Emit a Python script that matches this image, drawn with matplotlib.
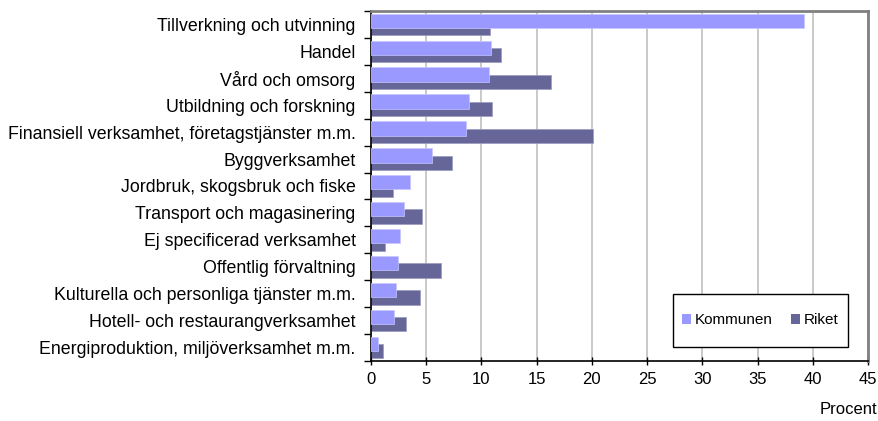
import numpy as np
import matplotlib
matplotlib.use("Agg")
import matplotlib.pyplot as plt
from matplotlib.patches import Patch, Rectangle

plt.rcParams['font.family'] = ['Liberation Sans', 'DejaVu Sans']

categories = [
    "Tillverkning och utvinning",
    "Handel",
    "Vård och omsorg",
    "Utbildning och forskning",
    "Finansiell verksamhet, företagstjänster m.m.",
    "Byggverksamhet",
    "Jordbruk, skogsbruk och fiske",
    "Transport och magasinering",
    "Ej specificerad verksamhet",
    "Offentlig förvaltning",
    "Kulturella och personliga tjänster m.m.",
    "Hotell- och restaurangverksamhet",
    "Energiproduktion, miljöverksamhet m.m.",
]
kommunen = [39.2, 10.9, 10.7, 8.85, 8.6, 5.5, 3.5, 3.0, 2.6, 2.4, 2.3, 2.05, 0.6]
riket = [10.8, 11.8, 16.3, 11.0, 20.1, 7.3, 2.0, 4.6, 1.3, 6.3, 4.4, 3.2, 1.05]
xticks = [0, 5, 10, 15, 20, 25, 30, 35, 40, 45]
series_names = ["Kommunen", "Riket"]

c_k = "#9999FF"
c_r = "#666699"

fig = plt.figure(figsize=(8.79, 4.21), dpi=100)
ax = fig.add_axes([371/879, 1-361/421, (868-371)/879, (361-11)/421])

y = np.arange(len(categories))
h = 0.53
off = 0.137
ax.barh(y + off, riket, height=h, color=c_r, edgecolor="#9a9ac0", linewidth=0.5, zorder=2)
ax.barh(y - off, kommunen, height=h, color=c_k, edgecolor="#c8c8ff", linewidth=0.5, zorder=3)

ax.set_xlim(0, 45)
ax.set_ylim(len(categories) - 0.5, -0.5)
ax.set_xticks(xticks)
ax.set_xticklabels([str(t) for t in xticks], fontsize=12)
ax.set_yticks(y)
ax.set_yticklabels(categories, fontsize=12.8)
ax.set_yticks(np.arange(-0.5, len(categories), 1.0), minor=True)
ax.tick_params(axis='y', which='major', length=0, pad=11)
ax.tick_params(axis='y', which='minor', length=5, width=1, direction='out', color='black')
ax.tick_params(axis='x', which='major', length=6, width=1, direction='inout', pad=5)

ax.grid(axis='x', color="#c0c0c0", linewidth=1.2, zorder=0)
ax.set_axisbelow(True)
for s in ['left', 'bottom']:
    ax.spines[s].set_color('black')
    ax.spines[s].set_linewidth(1.2)
for s in ['top', 'right']:
    ax.spines[s].set_color('#808080')
    ax.spines[s].set_linewidth(2)

# legend
lx0, ly0, lw, lh = 673/879, 1-347/421, (848-673)/879, (347-294)/421
fig.patches.append(Rectangle((lx0, ly0), lw, lh, transform=fig.transFigure,
                             facecolor='white', edgecolor='black', linewidth=1, zorder=5))
handles = [Patch(facecolor=c_k, edgecolor='none'), Patch(facecolor=c_r, edgecolor='none')]
leg = fig.legend(handles, series_names, loc='center', bbox_to_anchor=(lx0, ly0, lw, lh),
                 bbox_transform=fig.transFigure, ncol=2, frameon=False, fontsize=11,
                 handlelength=0.6, handleheight=0.6, handletextpad=0.25, columnspacing=1.2)
leg.set_zorder(6)

fig.text(877/879, 1-410/421, "Procent", ha='right', va='center', fontsize=12)

fig.savefig("out.png", dpi=100)
